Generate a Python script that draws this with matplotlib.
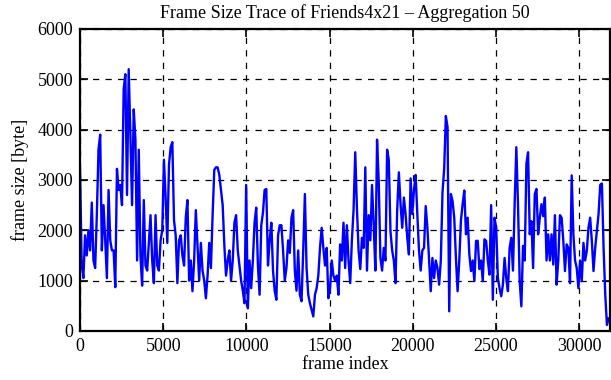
import numpy as np
import matplotlib
matplotlib.use("Agg")
import matplotlib.pyplot as plt

# frame size (byte), one reading every ~100 frames
seg1 = [3200, 1300, 1050, 1900, 1500, 2000, 1600, 2550, 1400, 1250,
        2300, 3600, 3900, 1600, 2500, 1800, 1050, 2800, 1800, 1600,
        1600, 870, 3220, 2800, 2900, 2500, 4800, 5100, 2700, 5200,
        3900, 2500, 4400, 3800, 1400, 3600, 1500, 900, 2600, 1300,
        1200, 1750, 2300, 1400, 950, 2300, 1300, 1200, 1800, 2000]
seg2 = [3400, 2650, 1750, 3300, 3650, 3750, 2200, 1900, 950, 1800,
        1900, 1500, 1300, 2250, 2600, 1000, 1400, 790, 1400, 2400,
        1700, 1000, 1750, 1200, 1000, 650, 1100, 1750, 1250, 2300,
        3200, 3250, 3250, 3100, 2800, 2500, 1700, 1100, 1400, 1600,
        1000, 1400, 2150, 2300, 1600, 1300, 1000, 800, 550, 2900,
        450, 1400]
seg3 = [850, 1400, 2150, 2450, 1300, 720, 2100, 2350, 2800, 2820,
        1300, 1800, 2150, 1200, 800, 620, 1900, 2100, 2100, 1600,
        1000, 1250, 1800, 1550, 2250, 2400, 1200, 800, 1600, 720,
        590, 1600, 2720, 1250, 720, 550, 420, 290, 720, 850,
        1100, 1650, 2050, 1650, 1300, 1650, 650, 850, 1400, 1100,
        1000, 1100]
seg4 = [720, 1720, 1400, 2150, 1250, 2100, 1400, 950, 1800, 2400,
        3550, 2450, 1600, 1230, 1850, 1650, 3250, 1200, 2300, 1800,
        2900, 2100, 1200, 3800, 2970, 1450, 1200, 1650, 1400, 3600,
        3400, 1980, 1600, 1400, 950, 2400, 3150, 2520, 2050, 2650,
        2320, 1850, 1520, 3030, 2320, 2800, 3100, 2320, 1600, 1200,
        1600, 1650]
seg5 = [2480, 2050, 1400, 790, 1450, 1050, 1400, 1250, 920, 1400,
        2750, 3220, 4270, 4050, 390, 2720, 2580, 2250, 1450, 790,
        1400, 2200, 2520, 2790, 1920, 2250, 1520, 1190, 1400, 990,
        1790, 1790, 1230, 1400, 990, 1820, 1790, 1400, 1120, 2500,
        620, 2250, 2050, 1050, 850, 690, 920, 1450, 1050, 790,
        1650, 1850]
seg6 = [1200, 2520, 3650, 2520, 990, 490, 1690, 1400, 3320, 3550,
        1920, 2180, 1250, 2720, 2820, 1920, 2250, 2520, 2280, 2650,
        1400, 1920, 1400, 1920, 1320, 2300, 920, 1400, 2300, 2250,
        1790, 1190, 1720, 1650, 950, 3090, 1920, 1400, 1250, 850,
        1400, 990, 1750, 1400, 1590, 2050, 2250, 1790, 1190, 1650,
        1990, 2320, 2900, 2930, 1650, 720, 120, 250]

frame_size = np.array(seg1 + seg2 + seg3 + seg4 + seg5 + seg6)
last_frame = 31780
frame_index = np.linspace(0, last_frame, len(frame_size))

plt.rcParams["font.family"] = ["Liberation Serif", "DejaVu Serif"]
plt.rcParams["font.size"] = 13

fig = plt.figure(figsize=(6.11, 3.8), dpi=100)
ax = fig.add_axes([0.131, 0.129, 0.867, 0.795])

ax.plot(frame_index, frame_size, color="#0000ff", linewidth=1.7)

ax.set_xlim(0, 31850)
ax.set_ylim(0, 6000)
ax.set_xticks(range(0, 31000, 5000))
ax.set_yticks(range(0, 6001, 1000))
ax.grid(True, color="black", linestyle=(0, (5, 5)), linewidth=0.9)
ax.tick_params(direction="in", top=True, right=True, length=6, width=1.2, pad=5)
for s in ax.spines.values():
    s.set_linewidth(1.6)

ax.set_title("Frame Size Trace of Friends4x21 \u2013 Aggregation 50", fontsize=13, pad=8)
ax.set_xlabel("frame index", labelpad=1)
ax.set_ylabel("frame size [byte]", labelpad=6)

fig.savefig("out.png", dpi=100)
